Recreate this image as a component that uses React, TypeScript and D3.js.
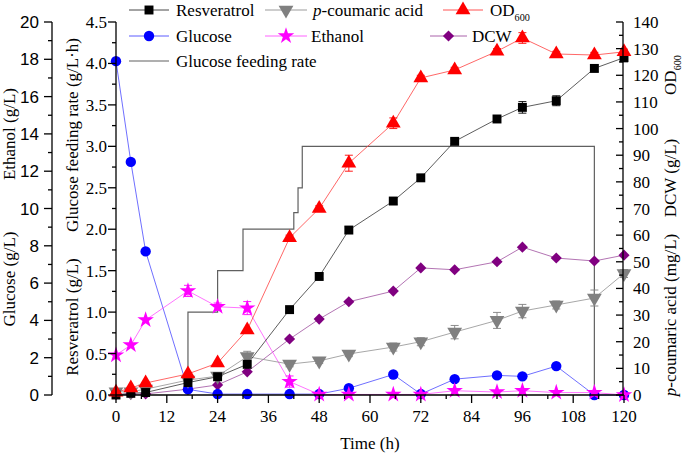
import React from "react";
import * as d3 from "d3";

// sampling times (h)
const times = [0, 3.5, 7, 17, 24, 31, 41, 48, 55, 65.5, 72, 80, 90, 96, 104, 113, 120];

// inner left axis (g/L)
const resveratrol = [0, 0.02, 0.03, 0.15, 0.22, 0.37, 1.03, 1.43, 1.99, 2.34, 2.62, 3.06, 3.33, 3.47, 3.55, 3.94, 4.07];
const resveratrolErr = [0, 0, 0, 0, 0, 0, 0.03, 0.03, 0.04, 0.04, 0.03, 0.03, 0.04, 0.07, 0.06, 0.04, 0.05];

// right axis
const pCoumaric = [1.2, 1.2, 2.2, 5.6, 7.1, 14.4, 11.6, 12.8, 15.4, 18, 20, 23.6, 28, 31.5, 33.8, 36.4, 45.6];
const pCoumaricErr = [0, 0, 0, 0, 0, 2, 1, 1, 1, 1.5, 1.5, 2.5, 3, 2.5, 1.5, 3, 1.5];
const od600 = [1, 2.6, 4.5, 7.9, 12, 24.4, 59, 70, 87, 102, 119, 122, 129, 134, 128, 127.6, 128.8];
const od600Err = [0, 0, 0, 0, 0, 0, 1, 1, 3, 2, 1, 1, 1, 2, 1, 1, 1];
const dcw = [0.3, 0.3, 0.4, 2.2, 3.8, 8.7, 21, 28.5, 35, 39, 47.7, 47, 50, 55.5, 51.4, 50.3, 52.5];

// outer left axis (g/L)
const glucose = [17.9, 12.5, 7.7, 0.3, 0.05, 0.05, 0.05, 0.05, 0.36, 1.1, 0.05, 0.85, 1.05, 1.0, 1.55, 0, 0];
const ethanol = [2.14, 2.68, 4.02, 5.58, 4.73, 4.66, 0.72, 0.03, 0.03, 0.03, 0.03, 0.23, 0.16, 0.23, 0.13, 0.13, 0];
const ethanolErr = [0, 0, 0, 0.3, 0.2, 0.35, 0.3, 0, 0, 0, 0, 0, 0, 0, 0, 0, 0];

// glucose feeding rate (g/L·h), step changes
const feedTimes = [17, 17, 24, 30, 42, 43, 44, 113];
const feedRates = [0, 1.0, 1.5, 2.0, 2.2, 2.5, 3.0, 0];

// tick labels
const xTicks = [0, 12, 24, 36, 48, 60, 72, 84, 96, 108, 120];
const outerTicks = [0, 2, 4, 6, 8, 10, 12, 14, 16, 18, 20];
const innerTicks = [0, 0.5, 1, 1.5, 2, 2.5, 3, 3.5, 4, 4.5];
const rightTicks = [0, 10, 20, 30, 40, 50, 60, 70, 80, 90, 100, 110, 120, 130, 140];

const SERIF = "'Liberation Serif', 'Times New Roman', serif";
const SANS = "'Liberation Sans', Arial, sans-serif";

const x = d3.scaleLinear().domain([0, 120]).range([116, 624]);
const yIn = d3.scaleLinear().domain([0, 4.5]).range([395, 22]);
const yOut = d3.scaleLinear().domain([0, 20]).range([395, 22]);
const yR = d3.scaleLinear().domain([0, 140]).range([395, 22]);

const sym = (type: any, size: number) => d3.symbol().type(type).size(size)() as string;
const shapes: Record<string, { d: string; rot: number }> = {
  square: { d: sym(d3.symbolSquare, 80), rot: 0 },
  down: { d: sym(d3.symbolTriangle, 95), rot: 180 },
  up: { d: sym(d3.symbolTriangle, 95), rot: 0 },
  circle: { d: sym(d3.symbolCircle, 85), rot: 0 },
  star: { d: sym(d3.symbolStar, 85), rot: 0 },
  diamond: { d: sym(d3.symbolSquare, 62), rot: 45 },
};

type Series = {
  name: string;
  values: number[];
  err?: number[];
  y: d3.ScaleLinear<number, number>;
  color: string;
  line: string;
  shape: string;
};

const series: Series[] = [
  { name: "DCW", values: dcw, y: yR, color: "#800080", line: "#a050a0", shape: "diamond" },
  { name: "Glucose", values: glucose, y: yOut, color: "#0000ff", line: "#4a4aff", shape: "circle" },
  { name: "Ethanol", values: ethanol, err: ethanolErr, y: yOut, color: "#ff00ff", line: "#ff50ff", shape: "star" },
  { name: "p-coumaric acid", values: pCoumaric, err: pCoumaricErr, y: yR, color: "#808080", line: "#909090", shape: "down" },
  { name: "Resveratrol", values: resveratrol, err: resveratrolErr, y: yIn, color: "#000000", line: "#333333", shape: "square" },
  { name: "OD600", values: od600, err: od600Err, y: yR, color: "#ff0000", line: "#ff4040", shape: "up" },
];

const Marker = ({ cx, cy, shape, color }: { cx: number; cy: number; shape: string; color: string }) => (
  <path d={shapes[shape].d} transform={`translate(${cx},${cy}) rotate(${shapes[shape].rot})`} fill={color} />
);

const OD = ({ size }: { size: number }) => (
  <>
    OD<tspan fontSize={size * 0.6} dy={size * 0.3}>600</tspan>
  </>
);

export default function App() {
  const feedLine = d3
    .line<number>()
    .x((_, i) => x(feedTimes[i]))
    .y((d) => yIn(d))
    .curve(d3.curveStepAfter)(feedRates) as string;

  const xMinor = d3.range(0, 121, 6);
  const outerMinor = d3.range(0, 20.01, 1);
  const innerMinor = d3.range(0, 4.51, 0.25);
  const rightMinor = d3.range(0, 140.1, 5);

  const legendRows = [
    { y: 10, items: [
      { x: 129, len: 40, shape: "square", color: "#000", line: "#333", label: "Resveratrol", tx: 176 },
      { x: 265, len: 42, shape: "down", color: "#808080", line: "#909090", label: "p", tx: 313 },
      { x: 443, len: 40, shape: "up", color: "#ff0000", line: "#ff4040", label: "OD", tx: 490 },
    ] },
    { y: 36, items: [
      { x: 129, len: 40, shape: "circle", color: "#0000ff", line: "#4a4aff", label: "Glucose", tx: 176 },
      { x: 265, len: 42, shape: "star", color: "#ff00ff", line: "#ff50ff", label: "Ethanol", tx: 311 },
      { x: 430, len: 37, shape: "diamond", color: "#800080", line: "#a050a0", label: "DCW", tx: 472 },
    ] },
  ];

  return (
    <svg width={685} height={457} style={{ position: "absolute", left: 0, top: 0, background: "#fff" }}>
      {/* glucose feeding rate */}
      <path d={feedLine} fill="none" stroke="#606060" strokeWidth={1.2} />

      {/* series lines */}
      {series.map((s) => (
        <path
          key={s.name + "l"}
          d={d3.line<number>().x((_, i) => x(times[i])).y((d) => s.y(d))(s.values) as string}
          fill="none"
          stroke={s.line}
          strokeWidth={0.8}
        />
      ))}

      {/* error bars */}
      {series.map((s) =>
        s.err
          ? s.values.map((v, i) =>
              s.err![i] > 0 ? (
                <g key={s.name + "e" + i} stroke={s.color} strokeWidth={0.9}>
                  <line x1={x(times[i])} x2={x(times[i])} y1={s.y(v - s.err![i])} y2={s.y(v + s.err![i])} />
                  <line x1={x(times[i]) - 4} x2={x(times[i]) + 4} y1={s.y(v - s.err![i])} y2={s.y(v - s.err![i])} />
                  <line x1={x(times[i]) - 4} x2={x(times[i]) + 4} y1={s.y(v + s.err![i])} y2={s.y(v + s.err![i])} />
                </g>
              ) : null
            )
          : null
      )}

      {/* markers */}
      {series.map((s) =>
        s.values.map((v, i) => (
          <Marker key={s.name + "m" + i} cx={x(times[i])} cy={s.y(v)} shape={s.shape} color={s.color} />
        ))
      )}

      {/* x axis */}
      <g stroke="#000" strokeWidth={1.3}>
        <line x1={116} x2={624} y1={395} y2={395} />
        {xMinor.map((t) => (
          <line key={"xm" + t} x1={x(t)} x2={x(t)} y1={395} y2={xTicks.includes(t) ? 403 : 399} />
        ))}
      </g>
      {xTicks.map((t) => (
        <text key={"xt" + t} x={x(t)} y={422} textAnchor="middle" fontFamily={SERIF} fontSize={17}>
          {t}
        </text>
      ))}
      <text x={370} y={449} textAnchor="middle" fontFamily={SERIF} fontSize={17}>Time (h)</text>

      {/* outer left axis: glucose / ethanol */}
      <g stroke="#000" strokeWidth={1.3}>
        <line x1={52} x2={52} y1={22} y2={395} />
        {outerMinor.map((v) => (
          <line key={"om" + v} x1={outerTicks.includes(v) ? 44 : 48} x2={52} y1={yOut(v)} y2={yOut(v)} />
        ))}
      </g>
      {outerTicks.map((v) => (
        <text key={"ot" + v} x={39} y={yOut(v) + 6} textAnchor="end" fontFamily={SANS} fontSize={17}>
          {v}
        </text>
      ))}
      <text transform="translate(15,134) rotate(-90)" textAnchor="middle" fontFamily={SERIF} fontSize={17}>Ethanol (g/L)</text>
      <text transform="translate(15,279) rotate(-90)" textAnchor="middle" fontFamily={SERIF} fontSize={17}>Glucose (g/L)</text>

      {/* inner left axis: resveratrol / feeding rate */}
      <g stroke="#000" strokeWidth={1.3}>
        <line x1={116} x2={116} y1={22} y2={395} />
        {innerMinor.map((v) => (
          <line key={"im" + v} x1={innerTicks.includes(v) ? 108 : 112} x2={116} y1={yIn(v)} y2={yIn(v)} />
        ))}
      </g>
      {innerTicks.map((v) => (
        <text key={"it" + v} x={107} y={yIn(v) + 6} textAnchor="end" fontFamily={SERIF} fontSize={17}>
          {v.toFixed(1)}
        </text>
      ))}
      <text transform="translate(78,135) rotate(-90)" textAnchor="middle" fontFamily={SERIF} fontSize={17}>Glucose feeding rate (g/L·h)</text>
      <text transform="translate(78,317) rotate(-90)" textAnchor="middle" fontFamily={SERIF} fontSize={17}>Resveratrol (g/L)</text>

      {/* right axis: OD600 / DCW / p-coumaric acid */}
      <g stroke="#000" strokeWidth={1.3}>
        <line x1={623} x2={623} y1={22} y2={395} />
        {rightMinor.map((v) => (
          <line key={"rm" + v} x1={rightTicks.includes(v) ? 616 : 619} x2={623} y1={yR(v)} y2={yR(v)} />
        ))}
      </g>
      {rightTicks.map((v) => (
        <text key={"rt" + v} x={633} y={yR(v) + 6} textAnchor="start" fontFamily={SERIF} fontSize={17}>
          {v}
        </text>
      ))}
      <text transform="translate(676,75) rotate(-90)" textAnchor="middle" fontFamily={SERIF} fontSize={17}>
        <OD size={17} />
      </text>
      <text transform="translate(676,178) rotate(-90)" textAnchor="middle" fontFamily={SERIF} fontSize={17}>DCW (g/L)</text>
      <text transform="translate(676,315) rotate(-90)" textAnchor="middle" fontFamily={SERIF} fontSize={17}>
        <tspan fontStyle="italic">p</tspan>-coumaric acid (mg/L)
      </text>

      {/* legend */}
      {legendRows.map((row) =>
        row.items.map((it) => (
          <g key={it.label}>
            <line x1={it.x} x2={it.x + it.len} y1={row.y} y2={row.y} stroke={it.line} strokeWidth={0.9} />
            <Marker cx={it.x + it.len / 2} cy={row.y} shape={it.shape} color={it.color} />
            <text x={it.tx} y={row.y + 6} fontFamily={SERIF} fontSize={17}>
              {it.label === "p" ? (
                <>
                  <tspan fontStyle="italic">p</tspan>-coumaric acid
                </>
              ) : it.label === "OD" ? (
                <OD size={17} />
              ) : (
                it.label
              )}
            </text>
          </g>
        ))
      )}
      <line x1={129} x2={169} y1={61} y2={61} stroke="#606060" strokeWidth={1.2} />
      <text x={176} y={67} fontFamily={SERIF} fontSize={17}>Glucose feeding rate</text>
    </svg>
  );
}
